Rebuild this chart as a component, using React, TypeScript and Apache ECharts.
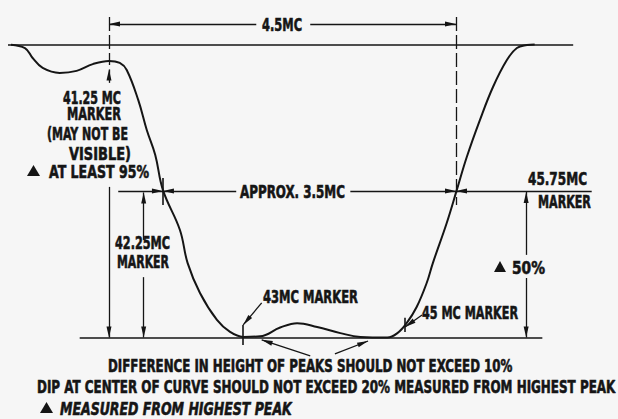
import React, { useEffect, useRef } from "react";
import * as echarts from "echarts";

// Response curve: frequency (MC) vs. response (% of highest peak, drawn downward)
const curveFreq = [39.94, 40.16, 40.26, 40.39, 40.61, 40.83, 41.04, 41.25, 41.39, 41.48, 41.63, 41.74, 41.85, 41.95, 42.17, 42.27, 42.43, 42.65, 42.82, 42.99, 43.21, 43.47, 43.69, 43.95, 44.25, 44.51, 44.86, 44.99, 45.11, 45.24, 45.37, 45.45, 45.63, 45.76, 45.89, 46.06, 46.23, 46.41, 46.54, 46.67, 46.77];
const curveResp = [0, 1.2, 4.6, 8.0, 9.7, 9.0, 6.7, 5.6, 6.3, 8.7, 19.0, 29.2, 37.7, 49.7, 63.3, 74.6, 84.8, 94.0, 98.1, 99.8, 99.6, 96.6, 95.1, 96.4, 98.5, 99.8, 100, 98.5, 95.1, 89.6, 81.4, 74.6, 60.9, 49.7, 38.4, 25.8, 14.5, 5.3, 1.2, 0.2, 0];

// Marker frequencies (MC)
const markerSound = 41.25;
const markerPicture = 45.75;
const marker4225 = 41.7;
const marker43 = 42.99;
const marker45 = 45.09;
const crossLeft = 41.95;
const sideMeasure = 46.66;

// Reference levels (% response)
const levelTop = 0;
const levelHalf = 50;
const levelPeak = 100;
const levelDim = -7.0;

// Plain segments [[f, r], [f, r]]
const plainSegs: number[][][] = [
  [[39.94, levelTop], [47.27, levelTop]],
  [[40.87, levelPeak], [46.87, levelPeak]],
  [[crossLeft, 45.6], [crossLeft, 54.8]],
  [[marker43, 95.7], [marker43, 102.6]],
  [[marker45, 93.3], [marker45, 98.1]],
];
// Segments ending in an arrowhead
const arrowSegs: number[][][] = [
  [[41.37, levelHalf], [crossLeft, levelHalf]],
  [[42.9, levelHalf], [crossLeft, levelHalf]],
  [[44.38, levelHalf], [markerPicture, levelHalf]],
  [[47.51, levelHalf], [markerPicture, levelHalf]],
  [[43.16, levelDim], [markerSound, levelDim]],
  [[43.86, levelDim], [markerPicture, levelDim]],
  [[markerSound, 13.1], [markerSound, 8.5]],
  [[markerSound, 48.6], [markerSound, levelPeak]],
  [[marker4225, 66.7], [marker4225, 50.5]],
  [[marker4225, 79.4], [marker4225, levelPeak]],
  [[sideMeasure, 71.8], [sideMeasure, 50.3]],
  [[sideMeasure, 79.7], [sideMeasure, levelPeak]],
  [[43.23, 88.2], [marker43, 95.7]],
  [[45.31, 92.3], [marker45, 96.4]],
  [[43.86, 106.3], [43.23, 100.8]],
  [[44.18, 105.6], [44.61, 101.2]],
];
const dashedSegs: number[][][] = [
  [[markerSound, -9.4], [markerSound, 7.0]],
  [[markerPicture, -9.4], [markerPicture, 54.8]],
];

const labelTexts = [
  "4.5MC",
  "41.25 MC",
  "MARKER",
  "(MAY NOT BE",
  "VISIBLE)",
  "AT LEAST 95%",
  "APPROX. 3.5MC",
  "45.75MC",
  "MARKER",
  "42.25MC",
  "MARKER",
  "50%",
  "43MC MARKER",
  "45 MC MARKER",
  "DIFFERENCE IN HEIGHT OF PEAKS SHOULD NOT EXCEED 10%",
  "DIP AT CENTER OF CURVE SHOULD NOT EXCEED 20% MEASURED FROM HIGHEST PEAK",
  "MEASURED FROM HIGHEST PEAK",
];

const INK = "#151515";
const BG = "#f6f6f6";
const FAMILY = "DejaVu Sans Condensed";
const FONT_SIZE = 18;

export default function App() {
  const ref = useRef<HTMLDivElement>(null);
  useEffect(() => {
    const el = ref.current!;
    const chart = echarts.init(el, null, { renderer: "svg" });
    const toSeg = (s: number[][]) => ({ coords: s });
    chart.setOption({
      animation: false,
      backgroundColor: BG,
      grid: { left: 12.6, right: 7.8, top: 44.5, bottom: 81.5 },
      xAxis: { type: "value", min: 40, max: 47.75, show: false },
      yAxis: { type: "value", min: 0, max: 100, inverse: true, show: false },
      series: [
        {
          type: "line",
          data: curveFreq.map((f, i) => [f, curveResp[i]]),
          smooth: 0.4,
          symbol: "none",
          clip: false,
          lineStyle: { color: INK, width: 2 },
        },
        {
          type: "lines",
          coordinateSystem: "cartesian2d",
          clip: false,
          data: plainSegs.map(toSeg),
          lineStyle: { color: INK, width: 1.6, opacity: 1 },
        },
        {
          type: "lines",
          coordinateSystem: "cartesian2d",
          clip: false,
          data: arrowSegs.map(toSeg),
          lineStyle: { color: INK, width: 1.3, opacity: 1 },
        },
        {
          type: "lines",
          coordinateSystem: "cartesian2d",
          clip: false,
          data: dashedSegs.map(toSeg),
          lineStyle: { color: INK, width: 1.3, opacity: 1, type: [14, 4] },
        },
      ],
    });

    const px = (p: number[]) => chart.convertToPixel({ gridIndex: 0 }, p) as number[];
    const graphics: any[] = [];
    // arrowheads
    arrowSegs.forEach((s) => {
      const a = px(s[0]);
      const b = px(s[1]);
      const dx = b[0] - a[0];
      const dy = b[1] - a[1];
      const len = Math.hypot(dx, dy) || 1;
      const ux = dx / len, uy = dy / len;
      const L = 11, W = 5;
      const bx = b[0] - ux * L, by = b[1] - uy * L;
      graphics.push({
        type: "polygon",
        shape: { points: [[b[0], b[1]], [bx - uy * W / 2, by + ux * W / 2], [bx + uy * W / 2, by - ux * W / 2]] },
        style: { fill: INK },
      });
    });

    // label layout: [left, right, centerY, italic]
    const layout: [number, number, number, boolean][] = [
      [262, 302, 24, false],
      [63, 121, 97, false],
      [67, 121, 113, false],
      [47, 128, 133, false],
      [69, 131, 153, false],
      [49, 149, 171, false],
      [240, 345, 191, false],
      [528, 587, 178, false],
      [538, 591, 201, false],
      [115, 170, 242, false],
      [117, 169, 261, false],
      [512, 545, 267, false],
      [263, 358, 296, false],
      [422, 518, 312, false],
      [108, 513, 365, false],
      [37, 616, 386, false],
      [60, 292, 408, true],
    ];
    const ctx = document.createElement("canvas").getContext("2d")!;
    labelTexts.forEach((t, i) => {
      const [x0, x1, yc, it] = layout[i];
      ctx.font = `${it ? "italic " : ""}bold ${FONT_SIZE}px "${FAMILY}"`;
      const w = ctx.measureText(t).width || 1;
      graphics.push({
        type: "text",
        x: x0,
        y: yc + 1,
        scaleX: (x1 - x0) / w,
        style: {
          text: t,
          fontSize: FONT_SIZE,
          fontFamily: FAMILY,
          fontWeight: "bold",
          fontStyle: it ? "italic" : "normal",
          fill: INK,
          stroke: INK,
          lineWidth: 0.6,
          textAlign: "left",
          textVerticalAlign: "middle",
        },
      });
    });
    // triangle bullets
    const tris: [number, number, number][] = [
      [27, 40, 171],
      [494, 506, 267],
      [40, 53, 408],
    ];
    tris.forEach(([a, b, y]) => {
      graphics.push({
        type: "polygon",
        shape: { points: [[a, y + 5], [b, y + 5], [(a + b) / 2, y - 6]] },
        style: { fill: INK },
      });
    });
    chart.setOption({ graphic: graphics });
    return () => chart.dispose();
  }, []);
  return (
    <div
      ref={ref}
      style={{ position: "fixed", left: 0, top: 0, width: 618, height: 419, background: BG }}
    />
  );
}
